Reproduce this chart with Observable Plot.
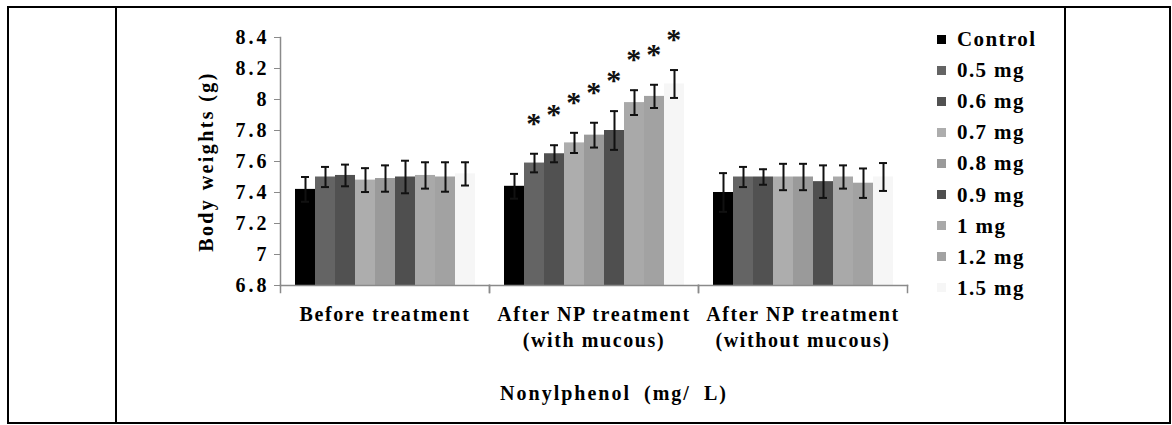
<!DOCTYPE html>
<html>
<head>
<meta charset="utf-8">
<script src="https://cdn.jsdelivr.net/npm/d3@7"></script>
<script src="https://cdn.jsdelivr.net/npm/@observablehq/plot@0.6"></script>
<style>
  html, body { margin: 0; padding: 0; background: #fff; }
  body { width: 1172px; height: 425px; position: relative; overflow: hidden;
         font-family: "Liberation Serif", "DejaVu Serif", "Times New Roman", serif; font-weight: bold; color: #000; }
  .border { position: absolute; box-sizing: border-box; border: 2px solid #000; left: 7px; top: 6px; width: 1164px; height: 418px; }
  .vline { position: absolute; top: 6px; width: 2px; height: 418px; background: #000; }
  #chart { position: absolute; left: 117px; top: 8px; }
  #legend { position: absolute; left: 937px; top: 0; }
  .item { position: absolute; left: 0; height: 24px; display: flex; align-items: center; white-space: nowrap; }
  .sw { width: 9px; height: 9px; margin-right: 11px; }
  .lbl { font-size: 21px; letter-spacing: 1.4px; line-height: 24px; }
  #xtitle { position: absolute; top: 383px; left: 614px; transform: translateX(-50%); font-size: 20px; letter-spacing: 2px; word-spacing: 6px; white-space: nowrap; line-height: 20px; }
  #chart svg text { letter-spacing: 1.6px; font-family: "Liberation Serif", "DejaVu Serif", "Times New Roman", serif; }
  #chart g[aria-label="y-axis tick label"] text { letter-spacing: 3px; }
  #chart g[aria-label="y-axis label"] text { letter-spacing: 2.4px; }
</style>
</head>
<body>
<div class="border"></div>
<div class="vline" style="left:115px"></div>
<div class="vline" style="left:1064px"></div>
<div id="chart"></div>
<div id="legend"></div>
<div id="xtitle"></div>
<script>
// ---- data ----
const groups = ["Before treatment", "After NP treatment (with mucous)", "After NP treatment (without mucous)"];
const groupLabels = ["Before treatment", "After NP treatment\n(with mucous)", "After NP treatment\n(without mucous)"];
const series = ["Control", "0.5 mg", "0.6 mg", "0.7 mg", "0.8 mg", "0.9 mg", "1 mg", "1.2 mg", "1.5 mg"];
const colors = ["#000000", "#646464", "#515151", "#adadad", "#9a9a9a", "#4f4f4f", "#a9a9a9", "#a2a2a2", "#f6f6f6"];

const beforeValues = [7.42, 7.50, 7.51, 7.48, 7.49, 7.50, 7.51, 7.50, 7.52];
const beforeErrors = [0.08, 0.065, 0.07, 0.077, 0.085, 0.105, 0.085, 0.095, 0.075];
const withMucousValues = [7.44, 7.59, 7.65, 7.72, 7.77, 7.80, 7.98, 8.02, 8.10];
const withMucousErrors = [0.08, 0.06, 0.055, 0.065, 0.08, 0.125, 0.08, 0.075, 0.09];
const withoutMucousValues = [7.40, 7.50, 7.50, 7.50, 7.50, 7.47, 7.50, 7.46, 7.50];
const withoutMucousErrors = [0.125, 0.065, 0.05, 0.085, 0.085, 0.105, 0.075, 0.095, 0.09];
const withMucousSignificant = [false, true, true, true, true, true, true, true, true];

const yTicks = [6.8, 7, 7.2, 7.4, 7.6, 7.8, 8, 8.2, 8.4];
const yLabel = "Body weights (g)";
const xLabel = "Nonylphenol (mg/ L)";

// ---- table for the library ----
const valueSets = [beforeValues, withMucousValues, withoutMucousValues];
const errorSets = [beforeErrors, withMucousErrors, withoutMucousErrors];
const starSets = [series.map(() => false), withMucousSignificant, series.map(() => false)];
const rows = groups.flatMap((g, gi) => series.map((s, si) => ({
  group: g, series: s, value: valueSets[gi][si], err: errorSets[gi][si], star: starSets[gi][si]
})));

const axisGray = "#8a8a8a";
const innerH = 248;
const serif = "'Liberation Serif', 'DejaVu Serif', 'Times New Roman', serif";

const plot = Plot.plot({
  width: 800,
  height: 415,
  marginLeft: 162,
  marginRight: 9,
  marginTop: 29,
  marginBottom: 138,
  style: { fontFamily: serif, fontWeight: "bold", fontSize: "20px", color: "#000", background: "transparent", overflow: "visible" },
  fx: { domain: groups, padding: 0, axis: null, label: null },
  x: { domain: series, paddingInner: 0, paddingOuter: 0.725, axis: null },
  y: { domain: [6.8, 8.4], axis: null },
  color: { domain: series, range: colors },
  marks: [
    Plot.barY(rows, { fx: "group", x: "series", y1: 6.8, y2: "value", fill: "series" }),
    Plot.ruleX(rows, { fx: "group", x: "series", y1: d => d.value - d.err, y2: d => d.value + d.err, stroke: "#111", strokeWidth: 2 }),
    Plot.tickY(rows, { fx: "group", x: "series", y: d => d.value + d.err, inset: 6, stroke: "#111", strokeWidth: 2 }),
    Plot.tickY(rows, { fx: "group", x: "series", y: d => d.value - d.err, inset: 6, stroke: "#111", strokeWidth: 2 }),
    Plot.text(rows.filter(d => d.star), { fx: "group", x: "series", y: d => d.value + d.err, text: () => "*", lineAnchor: "bottom", dy: -21, fontSize: 30, fill: "#111" }),
    Plot.frame({ anchor: "bottom", stroke: axisGray, strokeWidth: 1.5 }),
    Plot.frame({ anchor: "left", insetTop: innerH, insetBottom: -7, stroke: axisGray, strokeWidth: 1.5 }),
    Plot.frame({ anchor: "right", insetTop: innerH, insetBottom: -7, stroke: axisGray, strokeWidth: 1.5 }),
    Plot.frame({ anchor: "left", fx: () => groups[0], stroke: axisGray, strokeWidth: 1.5 }),
    Plot.axisY({ ticks: yTicks, tickFormat: d => d3.format("~")(d), tickSize: 6, tickPadding: 5, stroke: axisGray, fill: "#000", fontSize: 20,
      label: null }),
    Plot.axisY({ ticks: [], tickSize: 0, label: yLabel, labelAnchor: "center", labelOffset: 82, labelArrow: "none", fontSize: 20, fill: "#000" }),
    Plot.axisFx({ anchor: "bottom", tickSize: 0, tickPadding: 17, lineHeight: 1.3, fontSize: 20, label: null,
      tickFormat: g => groupLabels[groups.indexOf(g)] })
  ]
});
document.getElementById("chart").appendChild(plot);

// legend
const legend = document.getElementById("legend");
series.forEach((s, i) => {
  const item = document.createElement("div");
  item.className = "item";
  item.style.top = (39 + i * 31.1 - 12) + "px";
  const sw = document.createElement("div");
  sw.className = "sw";
  sw.style.background = colors[i];
  const lb = document.createElement("span");
  lb.className = "lbl";
  lb.textContent = s;
  item.appendChild(sw);
  item.appendChild(lb);
  legend.appendChild(item);
});
document.getElementById("xtitle").textContent = xLabel;
</script>
</body>
</html>
